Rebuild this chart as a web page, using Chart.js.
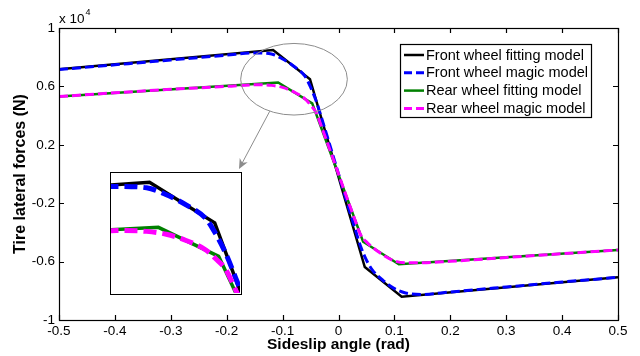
<!DOCTYPE html>
<html>
<head>
<meta charset="utf-8">
<script src="https://cdn.jsdelivr.net/npm/chart.js@4.4.1/dist/chart.umd.min.js"></script>
<style>
  html, body { margin: 0; padding: 0; background: #fff; }
  #wrap { position: relative; width: 640px; height: 356px; }
  #inset { position: absolute; left: 110px; top: 172px; width: 132px; height: 123px;
           box-sizing: border-box; border: 1.5px solid #000; background: #fff; }
  #inset canvas { display: block; }
</style>
</head>
<body>
<div id="wrap">
  <canvas id="main" width="640" height="356"></canvas>
  <div id="inset"><canvas id="zoom" width="129" height="120"></canvas></div>
</div>
<script>
// data (forces in N, angle in rad)
var frontFitX = [-0.5, -0.117, -0.051, 0.047, 0.113, 0.5];
var frontFitY = [7170, 8490, 6490, -6370, -8400, -7080];
var rearFitX = [-0.5, -0.108, -0.047, 0.044, 0.108, 0.5];
var rearFitY = [5300, 6270, 4840, -4640, -6180, -5200];

var magicX = [-0.5, -0.4, -0.3, -0.2, -0.15, -0.12, -0.1, -0.08, -0.06, -0.05, -0.04, -0.03, -0.02, -0.01, 0,
              0.01, 0.02, 0.03, 0.04, 0.05, 0.06, 0.08, 0.1, 0.12, 0.15, 0.2, 0.3, 0.4, 0.5];
var frontMagicY = [7150, 7480, 7810, 8140, 8290, 8220, 7880, 7380, 6700, 5950, 5000, 3800, 2550, 1280, 0,
                   -1280, -2550, -3800, -5000, -5900, -6550, -7300, -7850, -8150, -8250, -8080, -7740, -7400, -7080];
var rearMagicY = [5300, 5560, 5800, 6000, 6110, 6070, 5930, 5620, 5150, 4720, 4200, 3200, 2150, 1080, 0,
                  -1080, -2150, -3200, -4200, -4650, -5000, -5550, -5950, -6080, -6080, -5980, -5720, -5460, -5200];

var seriesNames = ['Front wheel fitting model', 'Front wheel magic model', 'Rear wheel fitting model', 'Rear wheel magic model'];

var xTicks = [-0.5, -0.4, -0.3, -0.2, -0.1, 0, 0.1, 0.2, 0.3, 0.4, 0.5];
var xTickLabels = ['-0.5', '-0.4', '-0.3', '-0.2', '-0.1', '0', '0.1', '0.2', '0.3', '0.4', '0.5'];
var yTicks = [-10000, -6000, -2000, 2000, 6000, 10000];
var yTickLabels = ['-1', '-0.6', '-0.2', '0.2', '0.6', '1'];

var FONT = '"Liberation Sans", Arial, Helvetica, sans-serif';

function points(xs, ys) {
  return xs.map(function (x, i) { return { x: x, y: ys[i] }; });
}

// thick = inset version (lines look magnified there)
function makeDatasets(thick) {
  var solidW = thick ? 3.5 : 2.5;
  var dashW = thick ? 5 : 3;
  var dash = thick ? [13, 6] : [9, 4];
  return [
    { label: seriesNames[0], data: points(frontFitX, frontFitY), borderColor: '#000000', borderWidth: solidW, order: 4 },
    { label: seriesNames[1], data: points(magicX, frontMagicY), borderColor: '#0000ff', borderWidth: dashW, borderDash: dash, cubicInterpolationMode: 'monotone', order: 3 },
    { label: seriesNames[2], data: points(rearFitX, rearFitY), borderColor: '#008000', borderWidth: solidW, order: 2 },
    { label: seriesNames[3], data: points(magicX, rearMagicY), borderColor: '#ff00ff', borderWidth: dashW, borderDash: dash, cubicInterpolationMode: 'monotone', order: 1 }
  ];
}

// box, inward ticks, exponent, zoom ellipse + arrow, legend
var decorPlugin = {
  id: 'decor',
  afterDraw: function (chart) {
    var ctx = chart.ctx, a = chart.chartArea;
    var xs = chart.scales.x, ys = chart.scales.y;
    ctx.save();

    // frame
    ctx.strokeStyle = '#000';
    ctx.lineWidth = 1.2;
    ctx.strokeRect(a.left + 0.5, a.top + 0.5, a.right - a.left, a.bottom - a.top);
    ctx.beginPath();
    xTicks.forEach(function (v) {
      var px = Math.round(xs.getPixelForValue(v)) + 0.5;
      ctx.moveTo(px, a.bottom); ctx.lineTo(px, a.bottom - 5);
      ctx.moveTo(px, a.top); ctx.lineTo(px, a.top + 5);
    });
    yTicks.forEach(function (v) {
      var py = Math.round(ys.getPixelForValue(v)) + 0.5;
      ctx.moveTo(a.left, py); ctx.lineTo(a.left + 5, py);
      ctx.moveTo(a.right, py); ctx.lineTo(a.right - 5, py);
    });
    ctx.stroke();

    // x 10^4
    ctx.fillStyle = '#000';
    ctx.textBaseline = 'middle';
    ctx.textAlign = 'left';
    ctx.font = '13.5px ' + FONT;
    ctx.fillText('x 10', a.left, 19);
    var w = ctx.measureText('x 10').width;
    ctx.font = '9px ' + FONT;
    ctx.fillText('4', a.left + w + 1, 13);

    // ellipse around the peak region
    var cx = xs.getPixelForValue(-0.0796), cy = ys.getPixelForValue(6490);
    var rx = xs.getPixelForValue(0.0158) - cx, ry = cy - ys.getPixelForValue(8942);
    ctx.strokeStyle = '#8c8c8c';
    ctx.lineWidth = 1;
    ctx.beginPath();
    ctx.ellipse(cx, cy, rx, ry, 0, 0, Math.PI * 2);
    ctx.stroke();

    // arrow to the inset
    var ang = 117 * Math.PI / 180;
    var sx = cx + rx * Math.cos(ang), sy = cy + ry * Math.sin(ang);
    var ex = 239, ey = 169;
    var dx = ex - sx, dy = ey - sy, len = Math.sqrt(dx * dx + dy * dy);
    var ux = dx / len, uy = dy / len;
    ctx.beginPath();
    ctx.moveTo(sx, sy);
    ctx.lineTo(ex - ux * 4, ey - uy * 4);
    ctx.stroke();
    ctx.fillStyle = '#8c8c8c';
    ctx.beginPath();
    ctx.moveTo(ex, ey);
    ctx.lineTo(ex - ux * 10 - uy * 4.5, ey - uy * 10 + ux * 4.5);
    ctx.lineTo(ex - ux * 7, ey - uy * 7);
    ctx.lineTo(ex - ux * 10 + uy * 4.5, ey - uy * 10 - ux * 4.5);
    ctx.closePath();
    ctx.fill();

    // legend
    var lx = 400, ly = 44, lw = 191, lh = 73;
    ctx.fillStyle = '#fff';
    ctx.fillRect(lx, ly, lw, lh);
    ctx.strokeStyle = '#000';
    ctx.lineWidth = 1.2;
    ctx.strokeRect(lx + 0.5, ly + 0.5, lw, lh);
    ctx.font = '14.5px ' + FONT;
    chart.data.datasets.forEach(function (ds, i) {
      var ry2 = ly + 11 + i * 17.8;
      ctx.strokeStyle = ds.borderColor;
      ctx.lineWidth = ds.borderDash ? 3 : 2.5;
      ctx.setLineDash(ds.borderDash ? [8, 4] : []);
      ctx.beginPath();
      ctx.moveTo(lx + 4, ry2);
      ctx.lineTo(lx + 24, ry2);
      ctx.stroke();
      ctx.setLineDash([]);
      ctx.fillStyle = '#000';
      ctx.fillText(ds.label, lx + 26, ry2 + 0.5);
    });
    ctx.restore();
  }
};

new Chart(document.getElementById('main'), {
  type: 'line',
  data: { datasets: makeDatasets(false) },
  options: {
    responsive: false,
    animation: false,
    events: [],
    parsing: false,
    layout: { padding: { left: 0, top: 28, right: 22, bottom: 0 } },
    elements: { point: { radius: 0 }, line: { fill: false, tension: 0 } },
    plugins: { legend: { display: false }, tooltip: { enabled: false } },
    scales: {
      x: {
        type: 'linear', min: -0.5, max: 0.5,
        afterBuildTicks: function (s) { s.ticks = xTicks.map(function (v) { return { value: v }; }); },
        afterFit: function (s) { s.height = 36; },
        grid: { display: false, drawTicks: false },
        border: { display: false },
        ticks: {
          autoSkip: false, maxRotation: 0, padding: 3, color: '#000',
          font: { family: FONT, size: 13.5 },
          callback: function (v, i) { return xTickLabels[i]; }
        },
        title: {
          display: true, text: 'Sideslip angle (rad)', color: '#000',
          font: { family: FONT, size: 15.5, weight: 'bold' },
          padding: { top: 0, bottom: 2 }
        }
      },
      y: {
        type: 'linear', min: -10000, max: 10000,
        afterBuildTicks: function (s) { s.ticks = yTicks.map(function (v) { return { value: v }; }); },
        afterFit: function (s) { s.width = 59; },
        grid: { display: false, drawTicks: false },
        border: { display: false },
        ticks: {
          autoSkip: false, padding: 4, color: '#000',
          font: { family: FONT, size: 13.5 },
          callback: function (v, i) { return yTickLabels[i]; }
        },
        title: {
          display: true, text: 'Tire lateral forces (N)', color: '#000',
          font: { family: FONT, size: 16, weight: 'bold' },
          padding: { top: 11, bottom: 0 }
        }
      }
    }
  },
  plugins: [decorPlugin]
});

// magnified inset of the peak region
new Chart(document.getElementById('zoom'), {
  type: 'line',
  data: { datasets: makeDatasets(true) },
  options: {
    responsive: false,
    animation: false,
    events: [],
    parsing: false,
    layout: { padding: 0 },
    elements: { point: { radius: 0 }, line: { fill: false, tension: 0 } },
    plugins: { legend: { display: false }, tooltip: { enabled: false } },
    scales: {
      x: { type: 'linear', min: -0.156, max: -0.0254, display: false },
      y: { type: 'linear', min: 3030, max: 8950, display: false }
    }
  }
});
</script>
</body>
</html>
